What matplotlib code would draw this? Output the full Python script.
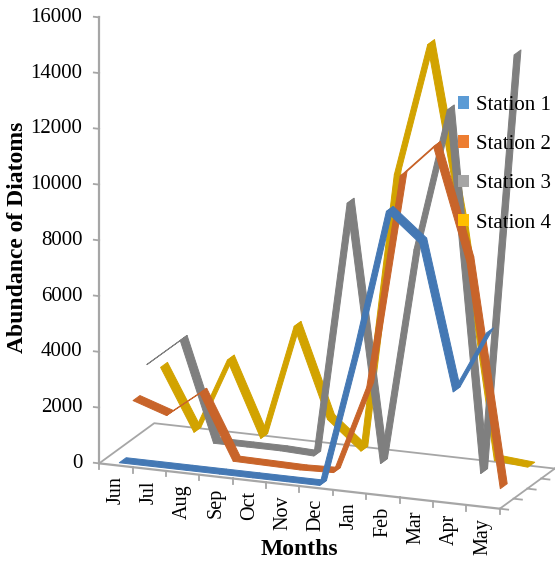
import matplotlib.pyplot as plt
from matplotlib.patches import Patch
from mpl_toolkits.mplot3d import proj3d
from mpl_toolkits.mplot3d.art3d import Poly3DCollection

plt.rcParams['font.family'] = 'Liberation Serif'

months = ['Jun', 'Jul', 'Aug', 'Sep', 'Oct', 'Nov', 'Dec', 'Jan', 'Feb', 'Mar', 'Apr', 'May']
stations = ['Station 1', 'Station 2', 'Station 3', 'Station 4']

station1 = [0, 0, 0, 0, 0, 0, 0, 4800, 10100, 9100, 3900, 6150]
station2 = [1870, 1470, 2400, 100, 80, 60, 100, 3300, 11000, 12200, 8200, 200]
station3 = [2800, 3800, 250, 250, 250, 200, 9400, 200, 8000, 13150, 250, 15400]
station4 = [2340, 150, 2870, 200, 4350, 1150, 150, 10200, 15000, 8500, 350, 250]

zticks = [0, 2000, 4000, 6000, 8000, 10000, 12000, 14000, 16000]

legend_colors = ['#5B9BD5', '#ED7D31', '#A5A5A5', '#FFC000']
ribbon_colors = ['#4478B4', '#C8642A', '#7F7F7F', '#D2A300']
axis_color = '#A6A6A6'

fig = plt.figure(figsize=(5.55, 5.65), dpi=100)
ax = fig.add_axes([0.0757, 0.0567, 1, 1], projection='3d', proj_type='ortho')
ax.computed_zorder = False
ax.view_init(elev=16.7, azim=-68.5)
ax.set_box_aspect((430, 150, 465), zoom=1.14)

# each station is a flat ribbon, half a slot deep, in its own depth slot
half = 0.25
polys, cols = [], []
for s, vals in enumerate([station1, station2, station3, station4]):
    yc = s + 0.5
    for i in range(len(months) - 1):
        polys.append([(i, yc - half, vals[i]), (i + 1, yc - half, vals[i + 1]),
                      (i + 1, yc + half, vals[i + 1]), (i, yc + half, vals[i])])
        cols.append(ribbon_colors[s])
ribbons = Poly3DCollection(polys, facecolors=cols, edgecolors=cols, linewidths=0.7, zorder=2)
ax.add_collection3d(ribbons)

x0, x1 = -0.5, len(months) - 0.5
y1 = len(stations)

# floor outline
ax.plot([x0, x0, x1], [0, y1, y1], [0, 0, 0], color=axis_color, lw=1.3, zorder=1)
ax.plot([x1, x1], [y1, 0], [0, 0], color=axis_color, lw=1.3, zorder=3)
ax.plot([x0, x1], [0, 0], [0, 0], color=axis_color, lw=1.6, zorder=3)
# value axis with ticks
ax.plot([x0, x0], [0, 0], [0, zticks[-1]], color=axis_color, lw=1.6, zorder=3)
for v in zticks:
    ax.plot([x0, x0 - 0.16], [0, 0], [v, v], color=axis_color, lw=1.3, zorder=3)
# category ticks along the front edge
for i in range(len(months) + 1):
    ax.plot([i - 0.5, i - 0.5], [0, 0], [0, -200], color=axis_color, lw=1.3, zorder=3)
# series ticks along the right edge
for j in range(len(stations) + 1):
    ax.plot([x1, x1 + 0.25], [j, j], [0, 0], color=axis_color, lw=1.3, zorder=3)

ax.set_xlim(x0, x1)
ax.set_ylim(0, y1)
ax.set_zlim(0, zticks[-1])
ax.set_axis_off()

M = ax.get_proj()
for v in zticks:
    px, py, _ = proj3d.proj_transform(x0, 0, v, M)
    ax.annotate(str(v), (px, py), xytext=(-12, 0), textcoords='offset points',
                ha='right', va='center', fontsize=15, annotation_clip=False)
for i, m in enumerate(months):
    px, py, _ = proj3d.proj_transform(i, 0, 0, M)
    ax.annotate(m, (px, py), xytext=(0, -8), textcoords='offset points', rotation=90,
                ha='center', va='top', fontsize=14.5, annotation_clip=False)

fig.text(0.032, 0.58, 'Abundance of Diatoms', rotation=90, ha='center', va='center',
         fontsize=17, fontweight='bold')
fig.text(0.54, 0.028, 'Months', ha='center', va='center', fontsize=17, fontweight='bold')

handles = [Patch(facecolor=c, edgecolor='none') for c in legend_colors]
fig.legend(handles, stations, loc='upper left', bbox_to_anchor=(0.81, 0.845), frameon=False,
           fontsize=15, handlelength=0.55, handleheight=0.55, handletextpad=0.3,
           labelspacing=0.97, borderaxespad=0)

fig.savefig('out.png', dpi=100)
